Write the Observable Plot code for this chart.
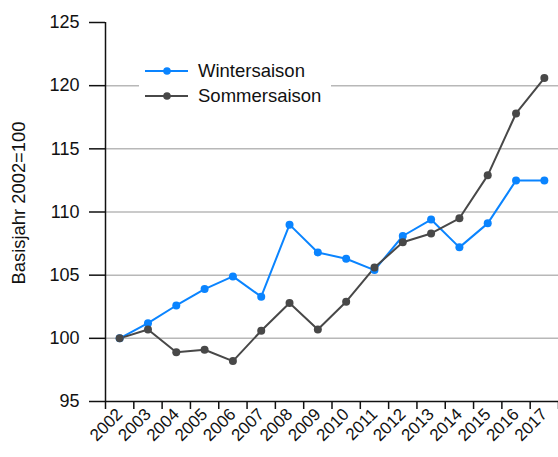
<!DOCTYPE html>
<html>
<head>
<meta charset="utf-8">
<script src="https://cdn.jsdelivr.net/npm/d3@7"></script>
<script src="https://cdn.jsdelivr.net/npm/@observablehq/plot@0.6"></script>
<style>
  html, body { margin: 0; padding: 0; background: #fff; }
  #wrap { position: relative; width: 558px; height: 457px; font-family: "Liberation Sans", Arial, sans-serif; }
  #legend { position: absolute; left: 139px; top: 54px; width: 192px; height: 56px; background: #fff; }
  .item { position: absolute; left: 6px; height: 20px; display: flex; align-items: center; font-size: 18.5px; color: #111; white-space: nowrap; }
  .item svg { margin-right: 10px; flex: none; }
</style>
</head>
<body>
<div id="wrap">
  <div id="chart"></div>
  <div id="legend"></div>
</div>
<script>
const years = [2002,2003,2004,2005,2006,2007,2008,2009,2010,2011,2012,2013,2014,2015,2016,2017];
const winter = [100,101.2,102.6,103.9,104.9,103.3,109.0,106.8,106.3,105.4,108.1,109.4,107.2,109.1,112.5,112.5];
const sommer = [100,100.7,98.9,99.1,98.2,100.6,102.8,100.7,102.9,105.6,107.6,108.3,109.5,112.9,117.8,120.6];
const yTicks = [95,100,105,110,115,120,125];
const gridTicks = [100,105,110,115,120];
const seriesNames = ["Wintersaison","Sommersaison"];
const colors = ["#0a84ff","#484848"];

const data = [];
years.forEach((yr,i) => {
  data.push({year: yr, value: winter[i], series: seriesNames[0]});
  data.push({year: yr, value: sommer[i], series: seriesNames[1]});
});
const edges = years.map(y => y - 0.5).concat([years[years.length-1] + 0.5]);
const font = "Liberation Sans, Arial, sans-serif";

const chart = Plot.plot({
  width: 558,
  height: 457,
  marginLeft: 105,
  marginRight: 0,
  marginTop: 22,
  marginBottom: 56,
  style: {fontFamily: font, background: "#fff", color: "#111", fontSize: "18px"},
  x: {domain: [2001.5, 2017.5]},
  y: {domain: [95,125]},
  color: {domain: seriesNames, range: colors},
  marks: [
    Plot.ruleY(gridTicks, {stroke: "#b8b8b8", strokeWidth: 1.5}),
    Plot.axisY({ticks: yTicks, tickSize: 16, tickPadding: 10, fontSize: 18, label: null, stroke: "#111", strokeWidth: 1.5}),
    Plot.axisX({ticks: edges, tickSize: 8, tickFormat: () => "", label: null, stroke: "#111", strokeWidth: 1.5}),
    Plot.axisX({ticks: years, tickSize: 0, tickFormat: d => String(d), tickRotate: -45, tickPadding: 10, fontSize: 17, label: null}),
    Plot.ruleX([2001.5], {stroke: "#111", strokeWidth: 1.5}),
    Plot.ruleY([95], {stroke: "#111", strokeWidth: 1.5}),
    Plot.text(["Basisjahr 2002=100"], {frameAnchor: "left", textAnchor: "middle", dx: -86.5, dy: -9, rotate: -90, fontSize: 18.4, fill: "#111"}),
    Plot.line(data, {x: "year", y: "value", stroke: "series", strokeWidth: 2}),
    Plot.dot(data, {x: "year", y: "value", fill: "series", r: 4})
  ]
});
document.getElementById("chart").appendChild(chart);

const legend = document.getElementById("legend");
seriesNames.forEach((name, i) => {
  const div = document.createElement("div");
  div.className = "item";
  div.style.top = (7 + i * 25) + "px";
  div.innerHTML = `<svg width="43" height="12"><line x1="0" y1="6" x2="43" y2="6" stroke="${colors[i]}" stroke-width="2"/><circle cx="22" cy="6" r="3.8" fill="${colors[i]}"/></svg>${name}`;
  legend.appendChild(div);
});
</script>
</body>
</html>
